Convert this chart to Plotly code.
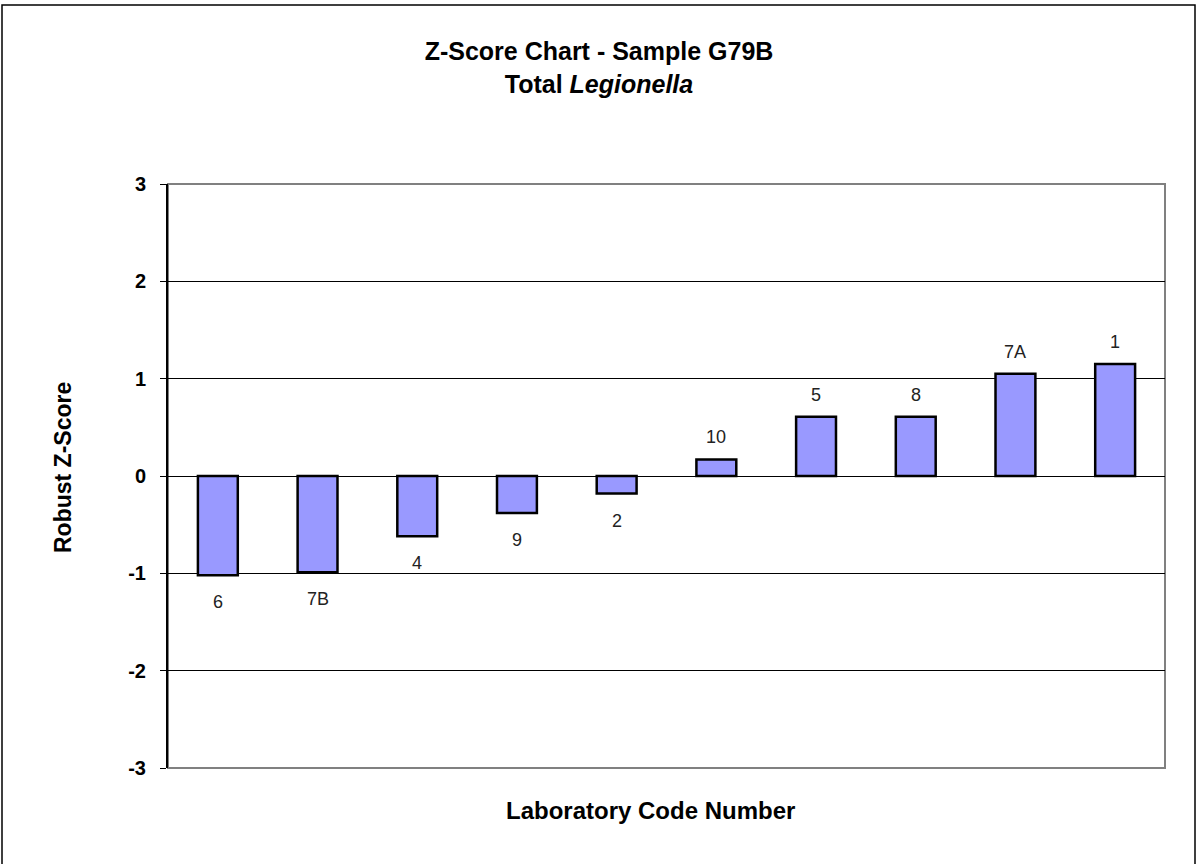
import plotly.graph_objects as go

labs = ["6", "7B", "4", "9", "2", "10", "5", "8", "7A", "1"]
zscores = [-1.02, -0.99, -0.62, -0.38, -0.18, 0.17, 0.61, 0.61, 1.05, 1.15]
yticks = [-3, -2, -1, 0, 1, 2, 3]

W, H = 1198, 864
ml, mr, mt, mb = 168, 33, 184, 96
pw, ph = W - ml - mr, H - mt - mb
FONT = "Liberation Sans, Arial"

def px_x(p):
    return (p - ml) / pw

def px_y(p):
    return (H - mb - p) / ph

xpos = list(range(len(labs)))

fig = go.Figure()
fig.add_trace(go.Bar(
    x=xpos, y=zscores,
    marker=dict(color="#9999FF", line=dict(color="black", width=2.5)),
    width=0.4, showlegend=False, hoverinfo="skip",
))

for i, (lab, v) in enumerate(zip(labs, zscores)):
    fig.add_annotation(x=i, y=v, text=lab, showarrow=False,
                       xanchor="center", yanchor="middle",
                       yshift=(22 if v > 0 else -27),
                       font=dict(family=FONT, size=18, color="#222"))

# axis titles
fig.add_annotation(xref="paper", yref="paper", x=px_x(650), y=px_y(810),
                   text="<b>Laboratory Code Number</b>", showarrow=False,
                   xanchor="center", yanchor="middle",
                   font=dict(family=FONT, size=24, color="black"))
fig.add_annotation(xref="paper", yref="paper", x=px_x(63), y=px_y(468),
                   text="<b>Robust Z-Score</b>", showarrow=False, textangle=-90,
                   xanchor="center", yanchor="middle",
                   font=dict(family=FONT, size=23, color="black"))

shapes = [
    dict(type="rect", xref="paper", yref="paper", x0=0, x1=1, y0=0, y1=1,
         line=dict(color="#808080", width=2), layer="below"),
    dict(type="rect", xref="paper", yref="paper",
         x0=px_x(2), x1=px_x(1195), y0=px_y(870), y1=px_y(5),
         line=dict(color="black", width=1.5)),
]

fig.update_layout(
    width=W, height=H,
    margin=dict(l=ml, r=mr, t=mt, b=mb),
    paper_bgcolor="white", plot_bgcolor="white",
    shapes=shapes,
    title=dict(text="<b>Z-Score Chart - Sample G79B<br>Total <i>Legionella</i></b>",
               x=0.5, xref="container", xanchor="center",
               y=1 - 60 / H, yanchor="middle",
               font=dict(family=FONT, size=25, color="black")),
    xaxis=dict(range=[-0.5, len(labs) - 0.5], showticklabels=False, showgrid=False,
               zeroline=False, ticks="", showline=False),
    yaxis=dict(range=[-3, 3], tickvals=yticks, ticktext=[f"<b>{t}</b>" for t in yticks],
               showgrid=True, gridcolor="black", gridwidth=1, zeroline=True,
               zerolinecolor="black", zerolinewidth=1,
               showline=True, linecolor="black", linewidth=2,
               ticks="outside", ticklen=6, tickcolor="black", ticklabelstandoff=10,
               tickfont=dict(family=FONT, size=20, color="black")),
)

fig.write_html("out.html", config={"displayModeBar": False},
               post_script="document.body.style.margin='0';")
